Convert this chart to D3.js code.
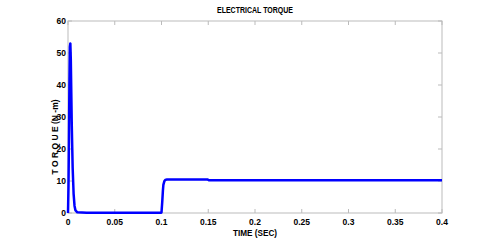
<!DOCTYPE html>
<html>
<head>
<meta charset="utf-8">
<script src="https://cdn.jsdelivr.net/npm/d3@7"></script>
<style>
  body { margin: 0; background: #fff; }
  text { font-family: "Liberation Sans Narrow", "Liberation Sans", Arial, sans-serif; font-weight: bold; }
</style>
</head>
<body>
<svg id="chart"></svg>
<script>
// electrical torque vs time
const time = [0, 0.0005, 0.001, 0.0015, 0.002, 0.0025, 0.003, 0.0035, 0.004, 0.005, 0.006, 0.007, 0.008, 0.01, 0.02, 0.05, 0.0995,
    0.1, 0.1008, 0.1015, 0.102, 0.103, 0.104, 0.106, 0.11, 0.13, 0.149, 0.151, 0.2, 0.3, 0.4];
const torque = [0, 8, 22, 40, 52, 53, 48, 38, 28, 14, 6, 2.2, 0.8, 0.2, 0.1, 0.1, 0.1,
    0.2, 3.5, 7, 8.8, 9.9, 10.3, 10.5, 10.5, 10.5, 10.5, 10.2, 10.2, 10.2, 10.2];
const xTicks = [0, 0.05, 0.1, 0.15, 0.2, 0.25, 0.3, 0.35, 0.4];
const yTicks = [0, 10, 20, 30, 40, 50, 60];

const width = 494, height = 240;
const margin = {top: 21, right: 52, bottom: 27, left: 68};

const svg = d3.select("#chart")
    .attr("width", width)
    .attr("height", height);

const x = d3.scaleLinear().domain([0, 0.4]).range([margin.left, width - margin.right]);
const y = d3.scaleLinear().domain([0, 60]).range([height - margin.bottom, margin.top]);

const axisColor = "#bbb";

// box
svg.append("rect")
    .attr("x", x(0)).attr("y", y(60))
    .attr("width", x(0.4) - x(0)).attr("height", y(0) - y(60))
    .attr("fill", "none").attr("stroke", axisColor).attr("stroke-width", 1);

const tickLen = 4;
const ticks = svg.append("g").attr("stroke", axisColor).attr("stroke-width", 1);
xTicks.forEach(t => {
    ticks.append("line").attr("x1", x(t)).attr("x2", x(t)).attr("y1", y(0)).attr("y2", y(0) - tickLen);
    ticks.append("line").attr("x1", x(t)).attr("x2", x(t)).attr("y1", y(60)).attr("y2", y(60) + tickLen);
});
yTicks.forEach(t => {
    ticks.append("line").attr("x1", x(0)).attr("x2", x(0) + tickLen).attr("y1", y(t)).attr("y2", y(t));
    ticks.append("line").attr("x1", x(0.4)).attr("x2", x(0.4) - tickLen).attr("y1", y(t)).attr("y2", y(t));
});

svg.append("g").selectAll("text")
    .data(xTicks)
    .join("text")
    .attr("x", d => x(d))
    .attr("y", y(0) + 12)
    .attr("text-anchor", "middle")
    .attr("font-size", 8.5)
    .text(d => d);

svg.append("g").selectAll("text")
    .data(yTicks)
    .join("text")
    .attr("x", x(0) - 2)
    .attr("y", d => y(d) + 3)
    .attr("text-anchor", "end")
    .attr("font-size", 8.5)
    .text(d => d);

const line = d3.line()
    .x((d, i) => x(time[i]))
    .y(d => y(d));

svg.append("path")
    .datum(torque)
    .attr("fill", "none")
    .attr("stroke", "#0000ff")
    .attr("stroke-width", 2.5)
    .attr("stroke-linejoin", "round")
    .attr("d", line);

svg.append("text")
    .attr("x", 255).attr("y", 13)
    .attr("text-anchor", "middle")
    .attr("font-size", 8.5)
    .attr("textLength", 76)
    .attr("lengthAdjust", "spacingAndGlyphs")
    .text("ELECTRICAL TORQUE");

svg.append("text")
    .attr("x", 255).attr("y", 236)
    .attr("text-anchor", "middle")
    .attr("font-size", 8.5)
    .attr("textLength", 44)
    .attr("lengthAdjust", "spacingAndGlyphs")
    .text("TIME (SEC)");

svg.append("text")
    .attr("transform", `translate(58,${(y(0) + y(60)) / 2 + 20}) rotate(-90)`)
    .attr("text-anchor", "middle")
    .attr("font-size", 8.5)
    .text("T O R Q U E   (N -m)");
</script>
</body>
</html>
